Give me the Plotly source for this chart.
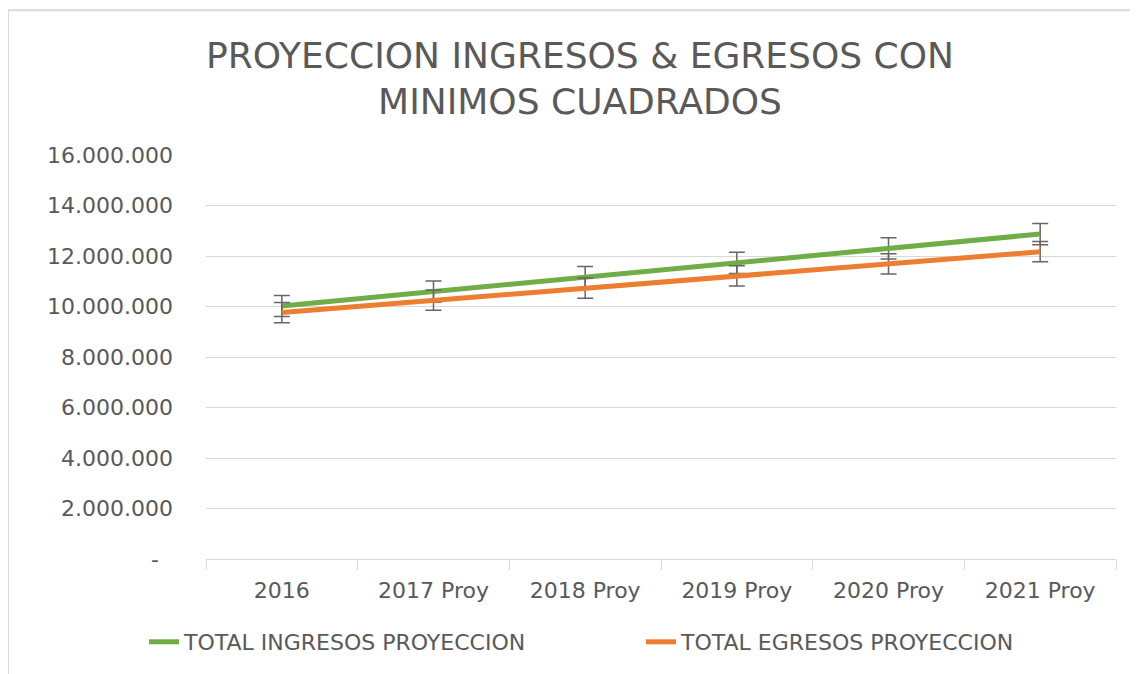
import plotly.graph_objects as go

categories = ["2016", "2017 Proy", "2018 Proy", "2019 Proy", "2020 Proy", "2021 Proy"]
ingresos = [10020000, 10590000, 11160000, 11730000, 12300000, 12870000]
egresos = [9760000, 10250000, 10730000, 11210000, 11690000, 12170000]
error_ingresos = 420000
error_egresos = 400000
y_tickvals = [0, 2000000, 4000000, 6000000, 8000000, 10000000, 12000000, 14000000, 16000000]
y_ticktext = ["-\u00a0\u00a0", "2.000.000", "4.000.000", "6.000.000", "8.000.000", "10.000.000",
              "12.000.000", "14.000.000", "16.000.000"]

FONT = "DejaVu Sans"
GRAY = "#595959"

W, H = 1130, 666
L, R, T, B = 198, 22, 147, 114
PW, PH = W - L - R, H - T - B

fig = go.Figure()
fig.add_trace(go.Scatter(
    x=categories, y=ingresos, mode="lines", name="TOTAL INGRESOS PROYECCION",
    line=dict(color="#70AD47", width=5),
    error_y=dict(type="constant", value=error_ingresos, color="#666666", thickness=1.5, width=8),
))
fig.add_trace(go.Scatter(
    x=categories, y=egresos, mode="lines", name="TOTAL EGRESOS PROYECCION",
    line=dict(color="#ED7D31", width=5),
    error_y=dict(type="constant", value=error_egresos, color="#666666", thickness=1.5, width=8),
))

fig.update_layout(
    width=W, height=H,
    margin=dict(l=L, r=R, t=T, b=B),
    paper_bgcolor="white", plot_bgcolor="white",
    font=dict(family=FONT, color=GRAY),
    title=dict(
        text="PROYECCION INGRESOS & EGRESOS CON<br>MINIMOS CUADRADOS",
        x=572 / W, xanchor="center", y=1 - 59.5 / H, yanchor="middle",
        font=dict(family=FONT, size=36, color=GRAY),
    ),
    showlegend=True,
    legend=dict(
        orientation="h", x=(172 - 8 - L) / PW, xanchor="left",
        y=(552 - 634) / PH, yanchor="middle",
        font=dict(family=FONT, size=22, color=GRAY),
        tracegroupgap=0, entrywidth=452, entrywidthmode="pixels",
    ),
    xaxis=dict(
        type="category", range=[-0.5, 5.5],
        showgrid=False, showline=True, linecolor="#D9D9D9", linewidth=1,
        ticks="outside", tickson="boundaries", ticklen=10, tickcolor="#D9D9D9",
        ticklabelstandoff=12,
        tickfont=dict(family=FONT, size=22, color=GRAY),
    ),
    yaxis=dict(
        range=[0, 16000000], tickvals=y_tickvals, ticktext=y_ticktext,
        showgrid=True, gridcolor="#D9D9D9", gridwidth=1, zeroline=False, showline=False,
        ticks="", ticklabelstandoff=32,
        tickfont=dict(family=FONT, size=22, color=GRAY),
    ),
    shapes=[dict(
        type="rect", xref="paper", yref="paper",
        x0=(0 - L) / PW, x1=(1145 - L) / PW,
        y0=(H - B - 690) / PH, y1=(H - B - 2) / PH,
        line=dict(color="#D9D9D9", width=2), fillcolor="rgba(0,0,0,0)", layer="below",
    )],
)

fig.write_html("out.html")
